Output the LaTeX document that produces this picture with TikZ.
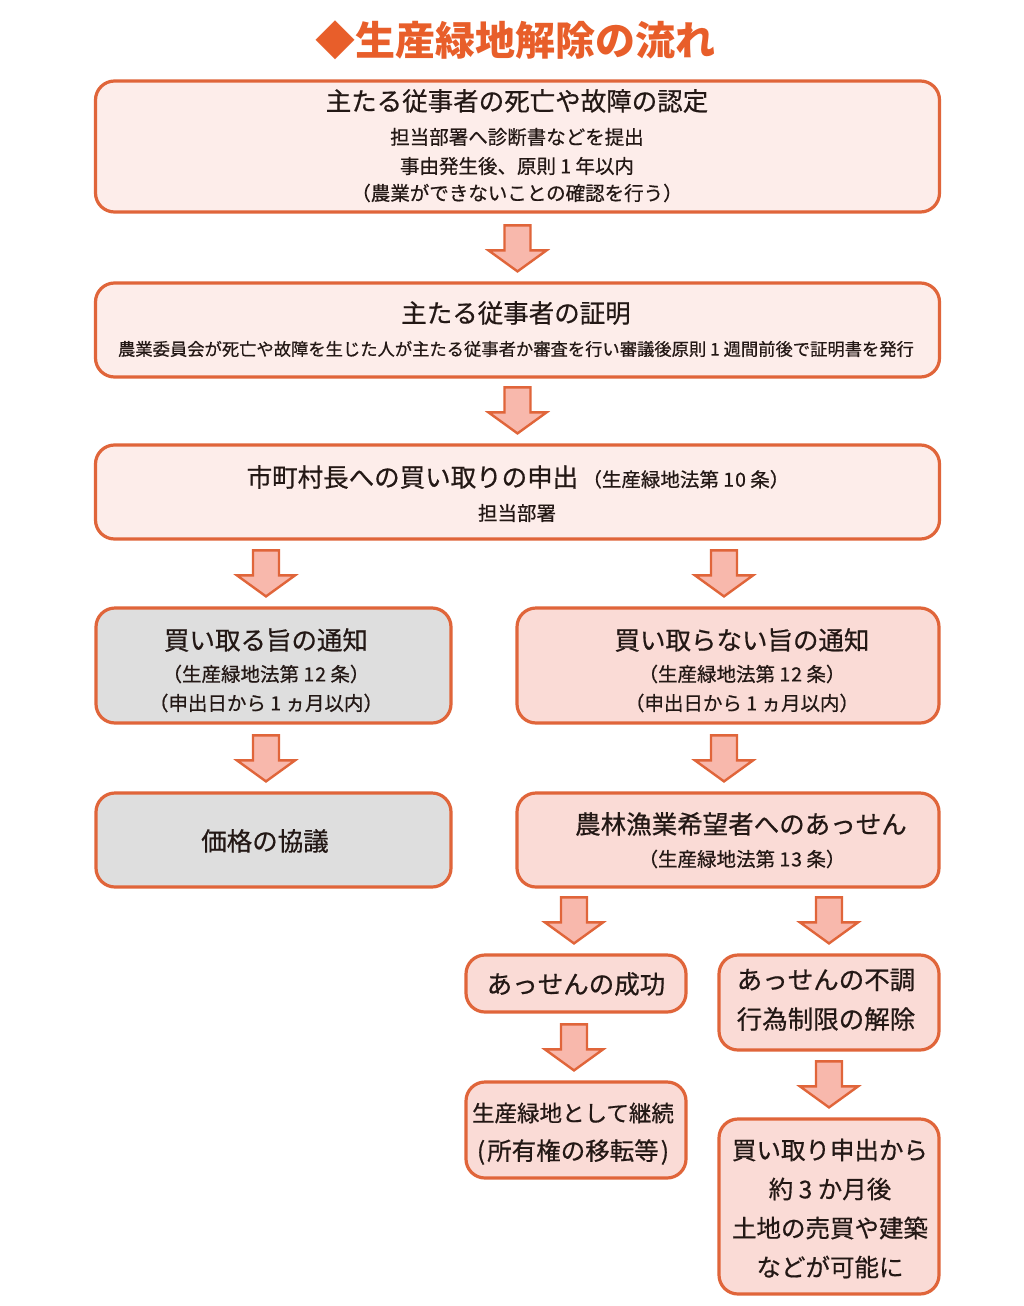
\documentclass[tikz,border=0pt]{standalone}
\usepackage{fontspec}
\setmainfont{Noto Sans CJK JP}[FakeBold=0.6]
\newfontfamily\titlefont{Noto Sans CJK JP}
\usetikzlibrary{calc}
\definecolor{edge}{HTML}{E0653A}
\definecolor{pinkA}{HTML}{FDEDEA}
\definecolor{pinkB}{HTML}{FADBD6}
\definecolor{grayF}{HTML}{DEDEDE}
\definecolor{arrowF}{HTML}{F8B8AC}
\definecolor{titleC}{HTML}{E85E2A}
\definecolor{txt}{HTML}{231815}
\newcommand{\fsz}[1]{\fontsize{#1}{#1}\selectfont}
\tikzset{
  box/.style={draw=edge, line width=3.2pt, rounded corners=19pt, inner sep=0pt},
  boxA/.style={box, fill=pinkA},
  boxB/.style={box, fill=pinkB},
  boxG/.style={box, fill=grayF},
  big/.style={text=txt, inner sep=0pt, font=\fsz{25.5}},
  small/.style={text=txt, inner sep=0pt, font=\fsz{19.5}},
  blockarrow/.style={draw=edge, fill=arrowF, line width=2.4pt, line join=miter},
}
\newcommand{\barrow}[2][0]{%
  \draw[blockarrow] ($(#2.north)+(#1,-10)$) -- ++(-29,-21) -- ++(16,0) -- ++(0,-25)
    -- ++(26,0) -- ++(0,25) -- ++(16,0) -- cycle;}
\begin{document}
\begin{tikzpicture}[x=1pt,y=-1pt]
\useasboundingbox[fill=white] (0,0) rectangle (1024,1306);
% title
\node[text=titleC, font=\titlefont\fsz{40}\bfseries, inner sep=0pt] (title) at (515,40) {◆生産緑地解除の流れ};
% boxes
\node[boxA, minimum width=844, minimum height=131] (b1) at (517.5,146.5) {};
\node[boxA, minimum width=844, minimum height=94] (b2) at (517.5,330) {};
\node[boxA, minimum width=844, minimum height=94] (b3) at (517.5,492) {};
\node[boxG, minimum width=355, minimum height=115] (b4) at (273.5,665.5) {};
\node[boxB, minimum width=422, minimum height=115] (b5) at (728,665.5) {};
\node[boxG, minimum width=355, minimum height=94] (b6) at (273.5,840) {};
\node[boxB, minimum width=422, minimum height=94] (b7) at (728,840) {};
\node[boxB, minimum width=220, minimum height=57] (b8) at (576,983.5) {};
\node[boxB, minimum width=220, minimum height=95] (b9) at (829,1002.5) {};
\node[boxB, minimum width=220, minimum height=96] (b10) at (576,1130) {};
\node[boxB, minimum width=220, minimum height=175] (b11) at (829,1206.5) {};
% texts
\node[big] (t1a) at (517,101) {主たる従事者の死亡や故障の認定};
\node[small] (t1b) at (517,137) {担当部署へ診断書などを提出};
\node[small] (t1c) at (517,166) {事由発生後、原則 1 年以内};
\node[small] (t1d) at (517,193) {（農業ができないことの確認を行う）};
\node[big] (t2a) at (516,313) {主たる従事者の証明};
\node[text=txt, inner sep=0pt, font=\fsz{17.3}] (t2b) at (516,349) {農業委員会が死亡や故障を生じた人が主たる従事者か審査を行い審議後原則 1 週間前後で証明書を発行};
\node[big] (t3a) at (518,477) {市町村長への買い取りの申出\,{\fsz{19.5}（生産緑地法第 1\kern1pt 0 条）}};
\node[small] (t3b) at (517,513) {担当部署};
\node[big] (t4a) at (266,640) {買い取る旨の通知};
\node[small] (t4b) at (266,674) {（生産緑地法第 1\kern1pt 2 条）};
\node[small] (t4c) at (266,703) {（申出日から 1 ヵ月以内）};
\node[big] (t5a) at (742,640) {買い取らない旨の通知};
\node[small] (t5b) at (742,674) {（生産緑地法第 1\kern1pt 2 条）};
\node[small] (t5c) at (742,703) {（申出日から 1 ヵ月以内）};
\node[big] (t6a) at (265,841) {価格の協議};
\node[big] (t7a) at (741,824) {農林漁業希望者へのあっせん};
\node[small] (t7b) at (742,859) {（生産緑地法第 1\kern1pt 3 条）};
\node[big] (t8a) at (576,984) {あっせんの成功};
\node[big] (t9a) at (826,980) {あっせんの不調};
\node[big] (t9b) at (826,1019) {行為制限の解除};
\node[text=txt, inner sep=0pt, font=\fsz{22.5}] (t10a) at (573,1113) {生産緑地として継続};
\node[text=txt, inner sep=0pt, font=\fsz{24.5}] (t10b) at (573,1152) {(\kern2pt所有権の移転等\kern2pt)};
\node[big, font=\fsz{24.5}] (t11a) at (830,1150) {買い取り申出から};
\node[big, font=\fsz{24.5}] (t11b) at (830,1189) {約 3 か月後};
\node[big, font=\fsz{24.5}] (t11c) at (830,1228) {土地の売買や建築};
\node[big, font=\fsz{24.5}] (t11d) at (830,1267) {などが可能に};
% arrows
\barrow{b2}
\barrow{b3}
\barrow[-7.5]{b4}
\barrow[-4]{b5}
\barrow[-7.5]{b6}
\barrow[-4]{b7}
\barrow[-2]{b8}
\barrow{b9}
\barrow[-2]{b10}
\barrow{b11}
\end{tikzpicture}
\end{document}
